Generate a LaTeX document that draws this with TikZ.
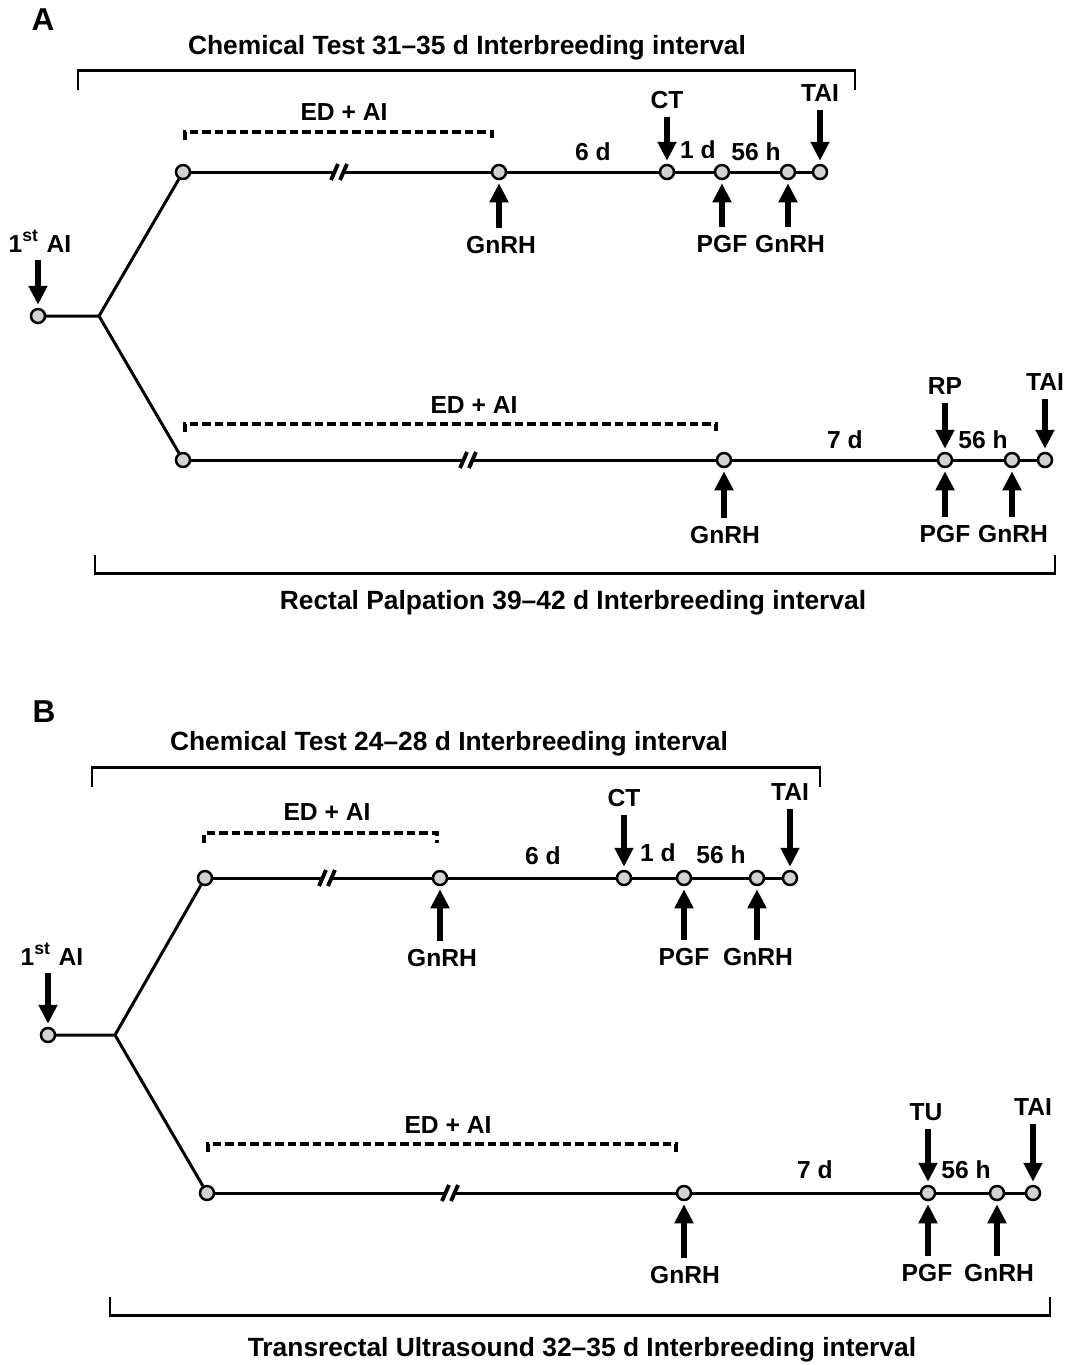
\documentclass[tikz,border=0pt]{standalone}
\usepackage{fontspec}
\setmainfont{Liberation Sans}
\usetikzlibrary{arrows.meta,calc}

\begin{document}
\begin{tikzpicture}[x=0.01cm,y=-0.01cm,
  lbl/.style={font=\bfseries\fontsize{7}{8}\selectfont,inner sep=1pt},
  ttl/.style={font=\bfseries\fontsize{7.5}{9}\selectfont,inner sep=1pt},
  panel/.style={font=\bfseries\fontsize{9}{10}\selectfont,inner sep=0pt},
  dot/.style={circle,draw,line width=0.7pt,fill=gray!35,minimum size=0.14cm,inner sep=0pt},
  tl/.style={line width=0.85pt},
  edai/.style={line width=0.9pt,dash pattern=on 0.085cm off 0.04cm},
  push/.style={line width=1.9pt,shorten <=0.04cm,shorten >=0.03cm,
    -{Triangle[width=0.18cm,length=0.19cm]}}]
  \useasboundingbox (0,0) rectangle (1065,1365);

  % ---------------- panel A ----------------
  \node[panel] (pa) at (43,20) {A};
  \node[ttl] (tta) at (467,48) {Chemical Test 31--35 d Interbreeding interval};
  \draw[tl] (78,90) -- (78,70) -- (855,70) -- (855,90);
  \node[ttl] (tba) at (573,603) {Rectal Palpation 39--42 d Interbreeding interval};
  \draw[tl] (95,555) -- (95,573) -- (1055,573) -- (1055,555);

  \node[dot] (a0) at (38,316) {};
  \coordinate (af) at (99,316);
  % upper line
  \node[dot] (au1) at (183,172) {};
  \coordinate (aub) at (339,172);
  \node[dot] (au2) at (499,172) {};
  \node[dot] (au3) at (667,172) {};
  \node[dot] (au4) at (722,172) {};
  \node[dot] (au5) at (788,172) {};
  \node[dot] (au6) at (820,172) {};
  % lower line
  \node[dot] (al1) at (183,460) {};
  \coordinate (alb) at (468,460);
  \node[dot] (al2) at (724,460) {};
  \node[dot] (al3) at (945,460) {};
  \node[dot] (al4) at (1012,460) {};
  \node[dot] (al5) at (1045,460) {};

  \draw[tl] (a0) -- (af) -- (au1);
  \draw[tl] (af) -- (al1);
  \draw[tl] (au1) -- ($(aub)+(-3,0)$) ($(aub)+(3,0)$) -- (au2) -- (au3) -- (au4) -- (au5) -- (au6);
  \draw[tl,line width=1.1pt] ($(aub)+(-8,8)$) -- ($(aub)+(-1,-8)$) ($(aub)+(1,8)$) -- ($(aub)+(8,-8)$);
  \draw[tl] (al1) -- ($(alb)+(-3,0)$) ($(alb)+(3,0)$) -- (al2) -- (al3) -- (al4) -- (al5);
  \draw[tl,line width=1.1pt] ($(alb)+(-8,8)$) -- ($(alb)+(-1,-8)$) ($(alb)+(1,8)$) -- ($(alb)+(8,-8)$);

  \node[lbl] (aai) at (40,241) {1\textsuperscript{st} AI};
  \draw[push] (aai.south -| a0) -- (a0);

  \draw[edai] (185,140) -- (185,132) -- (492,132) -- (492,140);
  \node[lbl] (aed1) at (344,112) {ED + AI};
  \draw[edai] (185,432) -- (185,424) -- (716,424) -- (716,432);
  \node[lbl] (aed2) at (474,405) {ED + AI};

  \node[lbl] (a6d) at (593,152) {6 d};
  \node[lbl] (a1d) at (698,150) {1 d};
  \node[lbl] (a56u) at (756,152) {56 h};
  \node[lbl] (a7d) at (845,440) {7 d};
  \node[lbl] (a56l) at (983,440) {56 h};

  \node[lbl] (act) at (667,100) {CT};
  \draw[push] (act) -- (au3);
  \node[lbl] (atai1) at (820,93) {TAI};
  \draw[push] (atai1) -- (au6);
  \node[lbl] (ag1) at (501,245) {GnRH};
  \draw[push] (ag1.north -| au2) -- (au2);
  \node[lbl] (apgf1) at (722,244) {PGF};
  \draw[push] (apgf1) -- (au4);
  \node[lbl] (ag2) at (790,244) {GnRH};
  \draw[push] (ag2.north -| au5) -- (au5);

  \node[lbl] (arp) at (945,386) {RP};
  \draw[push] (arp) -- (al3);
  \node[lbl] (atai2) at (1045,382) {TAI};
  \draw[push] (atai2) -- (al5);
  \node[lbl] (ag3) at (725,535) {GnRH};
  \draw[push] (ag3.north -| al2) -- (al2);
  \node[lbl] (apgf2) at (945,534) {PGF};
  \draw[push] (apgf2) -- (al3);
  \node[lbl] (ag4) at (1013,534) {GnRH};
  \draw[push] (ag4.north -| al4) -- (al4);

  % ---------------- panel B ----------------
  \node[panel] (pb) at (44,712) {B};
  \node[ttl] (ttb) at (449,744) {Chemical Test 24--28 d Interbreeding interval};
  \draw[tl] (92,787) -- (92,767) -- (820,767) -- (820,787);
  \node[ttl] (tbb) at (582,1350) {Transrectal Ultrasound 32--35 d Interbreeding interval};
  \draw[tl] (110,1297) -- (110,1315) -- (1050,1315) -- (1050,1297);

  \node[dot] (b0) at (48,1035) {};
  \coordinate (bf) at (115,1035);
  % upper line
  \node[dot] (bu1) at (205,878) {};
  \coordinate (bub) at (327,878);
  \node[dot] (bu2) at (440,878) {};
  \node[dot] (bu3) at (624,878) {};
  \node[dot] (bu4) at (684,878) {};
  \node[dot] (bu5) at (757,878) {};
  \node[dot] (bu6) at (790,878) {};
  % lower line
  \node[dot] (bl1) at (207,1193) {};
  \coordinate (blb) at (450,1193);
  \node[dot] (bl2) at (684,1193) {};
  \node[dot] (bl3) at (928,1193) {};
  \node[dot] (bl4) at (997,1193) {};
  \node[dot] (bl5) at (1033,1193) {};

  \draw[tl] (b0) -- (bf) -- (bu1);
  \draw[tl] (bf) -- (bl1);
  \draw[tl] (bu1) -- ($(bub)+(-3,0)$) ($(bub)+(3,0)$) -- (bu2) -- (bu3) -- (bu4) -- (bu5) -- (bu6);
  \draw[tl,line width=1.1pt] ($(bub)+(-8,8)$) -- ($(bub)+(-1,-8)$) ($(bub)+(1,8)$) -- ($(bub)+(8,-8)$);
  \draw[tl] (bl1) -- ($(blb)+(-3,0)$) ($(blb)+(3,0)$) -- (bl2) -- (bl3) -- (bl4) -- (bl5);
  \draw[tl,line width=1.1pt] ($(blb)+(-8,8)$) -- ($(blb)+(-1,-8)$) ($(blb)+(1,8)$) -- ($(blb)+(8,-8)$);

  \node[lbl] (bai) at (52,954) {1\textsuperscript{st} AI};
  \draw[push] (bai.south -| b0) -- (b0);

  \draw[edai] (204,843) -- (204,833) -- (437,833) -- (437,843);
  \node[lbl] (bed1) at (327,812) {ED + AI};
  \draw[edai] (208,1152) -- (208,1144) -- (676,1144) -- (676,1152);
  \node[lbl] (bed2) at (448,1125) {ED + AI};

  \node[lbl] (b6d) at (543,856) {6 d};
  \node[lbl] (b1d) at (658,853) {1 d};
  \node[lbl] (b56u) at (721,855) {56 h};
  \node[lbl] (b7d) at (815,1170) {7 d};
  \node[lbl] (b56l) at (966,1170) {56 h};

  \node[lbl] (bct) at (624,798) {CT};
  \draw[push] (bct) -- (bu3);
  \node[lbl] (btai1) at (790,792) {TAI};
  \draw[push] (btai1) -- (bu6);
  \node[lbl] (bg1) at (442,958) {GnRH};
  \draw[push] (bg1.north -| bu2) -- (bu2);
  \node[lbl] (bpgf1) at (684,957) {PGF};
  \draw[push] (bpgf1) -- (bu4);
  \node[lbl] (bg2) at (758,957) {GnRH};
  \draw[push] (bg2.north -| bu5) -- (bu5);

  \node[lbl] (btu) at (926,1112) {TU};
  \draw[push] (btu.south -| bl3) -- (bl3);
  \node[lbl] (btai2) at (1033,1107) {TAI};
  \draw[push] (btai2) -- (bl5);
  \node[lbl] (bg3) at (685,1275) {GnRH};
  \draw[push] (bg3.north -| bl2) -- (bl2);
  \node[lbl] (bpgf2) at (927,1273) {PGF};
  \draw[push] (bpgf2.north -| bl3) -- (bl3);
  \node[lbl] (bg4) at (999,1273) {GnRH};
  \draw[push] (bg4.north -| bl4) -- (bl4);
\end{tikzpicture}
\end{document}
